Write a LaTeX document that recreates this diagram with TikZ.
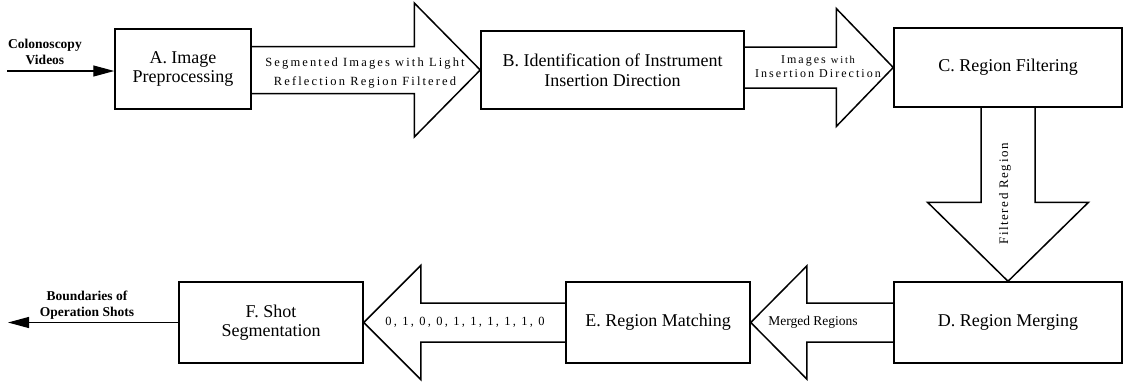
\documentclass[tikz,border=0pt]{standalone}
\usepackage{fontspec}
\setmainfont{Liberation Serif}
\newfontfamily\spacedfont[LetterSpace=17]{Liberation Serif}
\newfontfamily\widespaced[LetterSpace=18]{Liberation Serif}
\newfontfamily\lightspaced[LetterSpace=12]{Liberation Serif}
\usetikzlibrary{calc,arrows.meta}

% block arrow pointing right, from node #1 to node #2
% #3 shaft half-height, #4 head half-height, #5 head length
\newcommand{\blockright}[5]{%
  \draw[blockline] ($(#1.east|-#2.west)+(0,#3)$) -- ($(#2.west)+(-#5,#3)$)
    -- ($(#2.west)+(-#5,#4)$) -- (#2.west) -- ($(#2.west)+(-#5,-#4)$)
    -- ($(#2.west)+(-#5,-#3)$) -- ($(#1.east|-#2.west)+(0,-#3)$);}
% block arrow pointing left
\newcommand{\blockleft}[5]{%
  \draw[blockline] ($(#1.west|-#2.east)+(0,#3)$) -- ($(#2.east)+(#5,#3)$)
    -- ($(#2.east)+(#5,#4)$) -- (#2.east) -- ($(#2.east)+(#5,-#4)$)
    -- ($(#2.east)+(#5,-#3)$) -- ($(#1.west|-#2.east)+(0,-#3)$);}
% block arrow pointing down
\newcommand{\blockdown}[5]{%
  \draw[blockline] ($(#1.south-|#2.north)+(-#3,0)$) -- ($(#2.north)+(-#3,-#5)$)
    -- ($(#2.north)+(-#4,-#5)$) -- (#2.north) -- ($(#2.north)+(#4,-#5)$)
    -- ($(#2.north)+(#3,-#5)$) -- ($(#1.south-|#2.north)+(#3,0)$);}

\tikzset{
  stagebox/.style={draw, line width=1.5pt, align=center, inner sep=2pt,
    font=\fontsize{18}{19.5}\selectfont},
  blockline/.style={line width=1.5pt, line join=miter},
  flow/.style={line width=1.2pt, -{Triangle[length=21pt,width=11pt]}},
  iolabel/.style={align=center, font=\fontsize{13.5}{16.5}\selectfont\bfseries},
  arrowlabel/.style={align=center, inner sep=0pt}
}

\begin{document}
\begin{tikzpicture}[x=1pt, y=-1pt]
\useasboundingbox (0,0) rectangle (1124,381);

% processing stages
\node[stagebox, minimum width=136pt, minimum height=80pt] (A) at (183,69)
  {A. Image\\Preprocessing};
\node[stagebox, minimum width=263pt, minimum height=78pt] (B) at (612.5,70)
  {B. Identification of Instrument\\Insertion Direction};
\node[stagebox, minimum width=228pt, minimum height=79pt] (C) at (1008,67.5)
  {C. Region Filtering};
\node[stagebox, minimum width=228pt, minimum height=81pt] (D) at (1008,322.5)
  {D. Region Merging};
\node[stagebox, minimum width=184pt, minimum height=81pt] (E) at (658,322.5)
  {E. Region Matching};
\node[stagebox, minimum width=184pt, minimum height=81pt] (F) at (271,322.5)
  {F. Shot\\Segmentation};

% input and output
\node[iolabel] (vid) at (45,52) {Colonoscopy\\Videos};
\coordinate (in) at (7,71);
\draw[flow] (in) -- (in -| A.west);

\node[iolabel] (bound) at (87,305) {Boundaries of\\Operation Shots};
\coordinate (out) at (8,322.5);
\draw[flow] (F.west) -- (out);

% block arrows between stages
\blockright{A}{B}{23.5}{67}{66}
\blockright{B}{C}{20.5}{59}{57}
\blockdown{C}{D}{27}{80.5}{79}
\blockleft{D}{E}{19.5}{56.5}{56}
\blockleft{E}{F}{19.5}{57}{57}

% arrow labels
\node[arrowlabel, font=\fontsize{12.5}{19}\spacedfont] (lab1) at (365,73)
  {Segmented Images with Light\\Reflection Region Filtered};
\node[arrowlabel, font=\fontsize{12}{14}\spacedfont] (lab2) at (818,67)
  {Images {\fontsize{10.5}{12}\selectfont with}\\Insertion Direction};
\node[arrowlabel, rotate=90, font=\fontsize{13}{15}\lightspaced] (lab3) at (1005,194)
  {Filtered Region};
\node[arrowlabel, font=\fontsize{13.5}{16}\selectfont] (lab4) at (813,322)
  {Merged Regions};
\node[arrowlabel, font=\fontsize{12.5}{14}\widespaced] (lab5) at (465,322)
  {0, 1, 0, 0, 1, 1, 1, 1, 1, 0};
\end{tikzpicture}
\end{document}
